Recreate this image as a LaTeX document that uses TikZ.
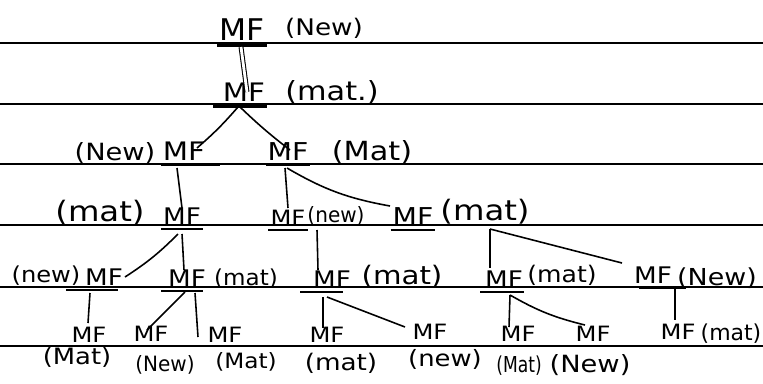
\documentclass[tikz,border=0pt]{standalone}
\usepackage{fontspec}
\setmainfont{DejaVu Sans}
\usetikzlibrary{calc}
\newcommand\hw[1]{\scalebox{1.15}[1]{#1}}
\newcommand\hws[2]{\scalebox{#1}[1]{#2}}
\tikzset{
  mf/.style={font=\fontsize{#1}{#1}\selectfont, inner xsep=1pt, inner ysep=2.5pt, anchor=south},
  lab/.style={font=\fontsize{#1}{#1}\selectfont, inner sep=0pt, anchor=base},
  rule/.style={line width=1.1pt},
  uline/.style={line width=1.4pt},
  conn/.style={line width=0.9pt},
  dbl/.style={line width=0.6pt, double, double distance=1.6pt}
}
\begin{document}
\begin{tikzpicture}[x=0.02cm, y=-0.02cm]
\fill[white] (0,0) rectangle (763,383);
\useasboundingbox (0,0) rectangle (763,383);
% ruled lines
\foreach \yy in {43,104,164,225,287,346} \draw[rule] (0,\yy) -- (763,\yy);

% level 0
\node[mf=17] (n0) at (242,45) {\hws{1.05}{MF}};
\node[lab=13] (t0) at (324,35) {\hw{(New)}};
% level 1
\node[mf=14.5] (n1) at (244,106) {\hw{MF}};
\node[lab=15] (t1) at (332,100) {\hw{(mat.)}};
% level 2
\node[mf=14.5] (n2a) at (184,165) {\hw{MF}};
\node[lab=13.5] (t2a) at (115,160) {\hw{(New)}};
\node[mf=14] (n2b) at (288,165) {\hw{MF}};
\node[lab=15] (t2b) at (372,160) {\hw{(Mat)}};
% level 3
\node[mf=13] (n3a) at (182,229) {\hw{MF}};
\node[lab=16] (t3a) at (100,221) {\hw{(mat)}};
\node[mf=12] (n3b) at (288,230) {\hw{MF}};
\node[lab=12] (t3b) at (336,222) {\hws{0.95}{(new)}};
\node[mf=14] (n3c) at (413,230) {\hw{MF}};
\node[lab=16] (t3c) at (485,220) {\hw{(mat)}};
% level 4
\node[mf=13] (n4a) at (104,290) {\hw{MF}};
\node[lab=12.5] (t4a) at (46,282) {\hws{1.1}{(new)}};
\node[mf=13] (n4b) at (187,291) {\hw{MF}};
\node[lab=12.5] (t4b) at (246,285) {\hws{1.05}{(mat)}};
\node[mf=13] (n4c) at (332,292) {\hw{MF}};
\node[lab=14.5] (t4c) at (402,284) {\hw{(mat)}};
\node[mf=13] (n4d) at (504,292) {\hw{MF}};
\node[lab=13] (t4d) at (562,282) {\hws{1.1}{(mat)}};
\node[mf=13] (n4e) at (653,288) {\hw{MF}};
\node[lab=13.3] (t4e) at (717,285) {\hw{(New)}};
% level 5
\node[mf=12] (l1) at (89,347) {\hw{MF}};
\node[lab=12.8] (s1) at (77,364) {\hw{(Mat)}};
\node[mf=12] (l2) at (151,346) {\hw{MF}};
\node[lab=12] (s2) at (165,371) {\hws{0.95}{(New)}};
\node[mf=12] (l3) at (225,347) {\hw{MF}};
\node[lab=12] (s3) at (246,368) {\hws{1.1}{(Mat)}};
\node[mf=12] (l4) at (327,347) {\hw{MF}};
\node[lab=13] (s4) at (341,370) {\hw{(mat)}};
\node[mf=12] (l5) at (430,344) {\hw{MF}};
\node[lab=12.8] (s5) at (445,366) {\hw{(new)}};
\node[mf=12] (l6) at (518,346) {\hw{MF}};
\node[lab=12.5] (s6) at (519,372) {\hws{0.78}{(Mat)}};
\node[mf=12] (l7) at (593,346) {\hw{MF}};
\node[lab=13.5] (s7) at (590,372) {\hw{(New)}};
\node[mf=12] (l8) at (678,344) {\hw{MF}};
\node[lab=12.5] (s8) at (731,340) {\hws{1.0}{(mat)}};

% underlines
\draw[uline, line width=2pt] (n0.south west) -- (n0.south east);
\draw[uline, line width=2pt] ($(n1.south west)+(-8,0)$) -- (n1.south east);
\draw[uline] (n2a.south west) -- ($(n2a.south east)+(13,0)$);
\draw[uline] (n2b.south west) -- (n2b.south east);
\draw[uline] (n3a.south west) -- (n3a.south east);
\draw[uline] (n3b.south west) -- (n3b.south east);
\draw[uline] (n3c.south west) -- (n3c.south east);
\draw[uline] ($(n4a.south west)+(-17,0)$) -- ($(n4a.south east)+(-7,0)$);
\draw[uline] ($(n4b.south west)+(-5,0)$) -- ($(n4b.south east)+(-5,0)$);
\draw[uline] ($(n4c.south west)+(-11,0)$) -- ($(n4c.south east)+(-10,0)$);
\draw[uline] ($(n4d.south west)+(-3,0)$) -- ($(n4d.south east)+(-1,0)$);
\draw[uline] ($(n4e.south west)+(7,0)$) -- ($(n4e.south east)+(12,0)$);

% connectors
\draw[dbl] ($(n0.south)+(-1,2)$) -- ($(n1.south)+(3,-14)$);
\draw[conn] ($(n1.south)+(-6,1)$) to[bend left=4] ($(n2a.south)+(13,-17)$);
\draw[conn] ($(n1.south)+(-4,1)$) to[bend right=3] ($(n2b.south)+(2,-15)$);
\draw[conn] ($(n2a.south)+(-7,3)$) -- ($(n3a.south)+(0,-21)$);
\draw[conn] ($(n2b.south)+(-3,3)$) -- ($(n3b.south)+(0,-22)$);
\draw[conn] ($(n2b.south)+(-1,3)$) to[bend right=10] ($(n3c.south)+(-23,-24)$);
\draw[conn] ($(n3a.south)+(-4,5)$) to[bend left=6] ($(n4a.south)+(21,-13)$);
\draw[conn] ($(n3a.south)+(0,5)$) -- ($(n4b.south)+(-3,-21)$);
\draw[conn] ($(n3b.south)+(29,0)$) -- ($(n4c.south)+(-14,-22)$);
\draw[conn] ($(n3c.south)+(77,-1)$) -- ($(n4d.south)+(-14,-24)$);
\draw[conn] ($(n3c.south)+(77,-1)$) -- ($(n4e.south)+(-31,-25)$);
\draw[conn] ($(n4a.south)+(-14,3)$) -- ($(l1.south)+(-1,-24)$);
\draw[conn] ($(n4b.south)+(-2,1)$) -- ($(l2.south)+(-4,-16)$);
\draw[conn] ($(n4b.south)+(8,2)$) -- ($(l3.south)+(-27,-10)$);
\draw[conn] ($(n4c.south)+(-9,5)$) -- ($(l4.south)+(-4,-19)$);
\draw[conn] ($(n4c.south)+(-5,5)$) -- ($(l5.south)+(-25,-17)$);
\draw[conn] ($(n4d.south)+(6,3)$) -- ($(l6.south)+(-9,-19)$);
\draw[conn] ($(n4d.south)+(6,3)$) to[bend right=8] ($(l7.south)+(-8,-21)$);
\draw[conn] ($(n4e.south)+(22,0)$) -- ($(l8.south)+(-3,-24)$);
\end{tikzpicture}
\end{document}
